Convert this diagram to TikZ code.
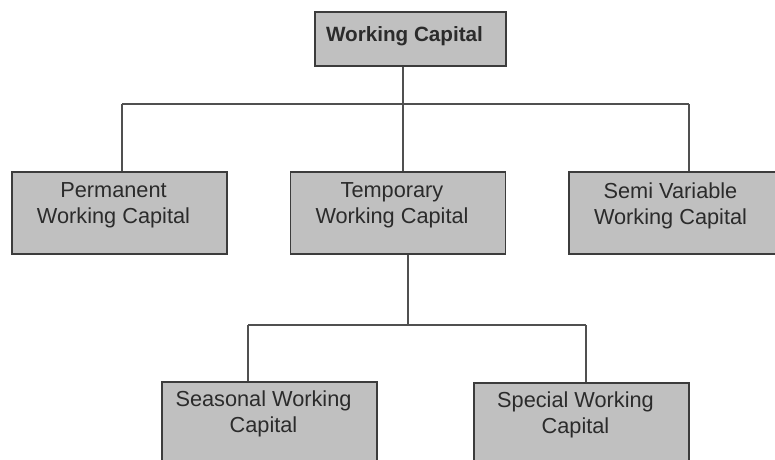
\documentclass[tikz,border=0pt]{standalone}
\usepackage{fontspec}
\setmainfont{Liberation Sans}
\usetikzlibrary{positioning}
\definecolor{WCFill}{HTML}{C0C0C0}
\definecolor{WCEdge}{HTML}{3C3C3C}
\definecolor{WCLine}{HTML}{505050}
\definecolor{WCText}{HTML}{2B2B2B}

\begin{document}
\begin{tikzpicture}[x=0.75pt,y=-0.75pt,
    capbox/.style={draw=WCEdge,fill=WCFill,line width=0.8pt,
      minimum width=161.25pt,minimum height=61.5pt,inner sep=0pt},
    captext/.style={align=center,text=WCText,inner sep=0pt,
      font=\fontsize{16.3}{19.5}\selectfont},
    link/.style={draw=WCLine,line width=1pt}]
  \useasboundingbox (0,0) rectangle (775,460);
  \clip (0,0) rectangle (775,460);
  % boxes
  \node[capbox,minimum width=143.25pt,minimum height=40.5pt]
    (wc) at (410.5,39) {};
  \node[capbox] (perm) at (119.5,213) {};
  \node[capbox] (temp) at (398,213) {};
  \node[capbox] (semi) at (676.5,213) {};
  \node[capbox] (seas) at (269.5,423) {};
  \node[capbox] (spec) at (581.5,424) {};
  % texts
  \node[captext,font=\fontsize{15.5}{18}\selectfont\bfseries,
    below=11.25pt of wc.north,xshift=-4.5pt] (wctxt) {Working Capital};
  \node[captext,below=8.25pt of perm.north,xshift=-4.5pt] (permtxt)
    {Permanent\\Working Capital};
  \node[captext,below=8.25pt of temp.north,xshift=-4.5pt] (temptxt)
    {Temporary\\Working Capital};
  \node[captext,below=8.25pt of semi.north,xshift=-4.5pt] (semitxt)
    {Semi Variable\\Working Capital};
  \node[captext,below=7.1pt of seas.north,xshift=-4.5pt] (seastxt)
    {Seasonal Working\\Capital};
  \node[captext,below=7.1pt of spec.north,xshift=-4.5pt] (spectxt)
    {Special Working\\Capital};
  % connectors
  \coordinate (bus) at (403,104);
  \coordinate (busL) at (122,104);
  \coordinate (busR) at (689,104);
  \coordinate (subM) at (408,325);
  \coordinate (subL) at (248,325);
  \coordinate (subR) at (586,325);
  \draw[link] (wc.south -| bus) -- (temp.north -| bus);
  \draw[link] (busL) -- (busR);
  \draw[link] (busL) -- (perm.north -| busL);
  \draw[link] (busR) -- (semi.north -| busR);
  \draw[link] (temp.south -| subM) -- (subM);
  \draw[link] (subL) -- (subR);
  \draw[link] (subL) -- (seas.north -| subL);
  \draw[link] (subR) -- (spec.north -| subR);
\end{tikzpicture}
\end{document}
